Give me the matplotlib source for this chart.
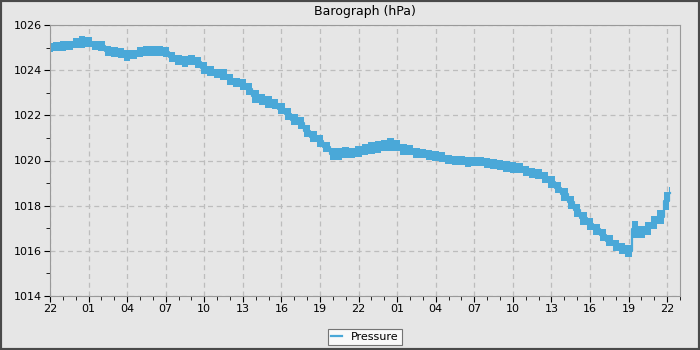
import matplotlib
matplotlib.use("Agg")
import matplotlib.pyplot as plt
from matplotlib.patches import Rectangle
from matplotlib.ticker import MultipleLocator
import numpy as np

# hours since 22:00 of the first day, 30-minute readings
hours = [i * 0.5 for i in range(97)] + [48.25]
pressure_mid = [
    1025.00, 1025.05, 1025.05, 1025.10, 1025.20, 1025.25, 1025.25, 1025.10, 1025.05, 1024.85,
    1024.80, 1024.75, 1024.65, 1024.70, 1024.80, 1024.85, 1024.85, 1024.85, 1024.80, 1024.60,
    1024.45, 1024.40, 1024.45, 1024.35, 1024.10, 1023.95, 1023.85, 1023.80, 1023.60, 1023.45,
    1023.35, 1023.15, 1022.85, 1022.70, 1022.60, 1022.50, 1022.30, 1022.05, 1021.80, 1021.65,
    1021.30, 1021.05, 1020.85, 1020.60, 1020.30, 1020.30, 1020.35, 1020.35, 1020.40, 1020.50,
    1020.55, 1020.60, 1020.65, 1020.70, 1020.65, 1020.50, 1020.45, 1020.35, 1020.30, 1020.25,
    1020.20, 1020.15, 1020.05, 1020.00, 1020.00, 1019.95, 1019.95, 1019.95, 1019.90, 1019.85,
    1019.80, 1019.75, 1019.70, 1019.65, 1019.55, 1019.45, 1019.40, 1019.25, 1019.05, 1018.80,
    1018.50, 1018.15, 1017.80, 1017.45, 1017.20, 1016.95, 1016.70, 1016.45, 1016.25, 1016.10,
    1016.00, 1016.95, 1016.85, 1017.00, 1017.25, 1017.50, 1018.20, 1018.55,
]
pressure_spread = [
    0.20, 0.21, 0.22, 0.21, 0.24, 0.26, 0.22, 0.21, 0.22, 0.22,
    0.22, 0.21, 0.24, 0.21, 0.21, 0.21, 0.22, 0.21, 0.21, 0.22,
    0.22, 0.24, 0.21, 0.24, 0.26, 0.22, 0.21, 0.24, 0.24, 0.21,
    0.24, 0.26, 0.29, 0.24, 0.26, 0.24, 0.26, 0.26, 0.24, 0.26,
    0.26, 0.24, 0.26, 0.24, 0.26, 0.26, 0.24, 0.22, 0.24, 0.24,
    0.26, 0.26, 0.24, 0.29, 0.24, 0.24, 0.22, 0.22, 0.21, 0.21,
    0.21, 0.22, 0.21, 0.21, 0.21, 0.22, 0.21, 0.21, 0.21, 0.22,
    0.24, 0.24, 0.24, 0.22, 0.22, 0.22, 0.22, 0.24, 0.26, 0.26,
    0.29, 0.29, 0.29, 0.29, 0.26, 0.26, 0.26, 0.24, 0.24, 0.24,
    0.26, 0.39, 0.26, 0.29, 0.29, 0.29, 0.39, 0.29,
]
tick_labels = ['22', '01', '04', '07', '10', '13', '16', '19', '22',
               '01', '04', '07', '10', '13', '16', '19', '22']

BG = '#e6e6e6'
LINE = '#4aa8d8'

fig = plt.figure(figsize=(7, 3.5), dpi=100, facecolor=BG)
fig.patches.append(Rectangle((0, 0), 1, 1, transform=fig.transFigure,
                             fill=False, edgecolor='#4a4a4a', linewidth=3))
ax = fig.add_axes([50 / 700, 1 - 296 / 350, 630 / 700, 271 / 350])
ax.set_facecolor(BG)

t = np.array(hours)
mid = np.array(pressure_mid)
sp = np.array(pressure_spread)
ax.fill_between(t, mid - sp, mid + sp, step='mid', color=LINE, linewidth=0)
ax.plot(t, mid, color=LINE, linewidth=1.6, drawstyle='steps-mid', label='Pressure')

ax.set_xlim(0, 49)
ax.set_ylim(1014, 1026)
ax.set_xticks(np.arange(0, 49, 3))
ax.set_xticklabels(tick_labels)
ax.xaxis.set_minor_locator(MultipleLocator(1))
ax.yaxis.set_major_locator(MultipleLocator(2))
ax.yaxis.set_minor_locator(MultipleLocator(1))
ax.grid(True, which='major', linestyle=(0, (4, 3)), color='#bdbdbd', linewidth=0.9)
ax.set_axisbelow(True)
for s in ax.spines.values():
    s.set_color('#999999')
ax.tick_params(axis='both', which='major', direction='out', length=4,
               color='black', labelsize=8, pad=2)
ax.tick_params(axis='both', which='minor', direction='out', length=3, color='black')

ax.set_title('Barograph (hPa)', fontsize=9, pad=7)

leg = ax.legend(loc='upper center', bbox_to_anchor=(0.5, -0.10), frameon=True,
                fancybox=False, fontsize=8, handlelength=1.0, borderpad=0.3,
                handletextpad=0.8)
leg.get_frame().set_edgecolor('#555555')
leg.get_frame().set_facecolor('white')
leg.get_frame().set_linewidth(0.8)

fig.savefig('out.png', dpi=100, facecolor=BG)
